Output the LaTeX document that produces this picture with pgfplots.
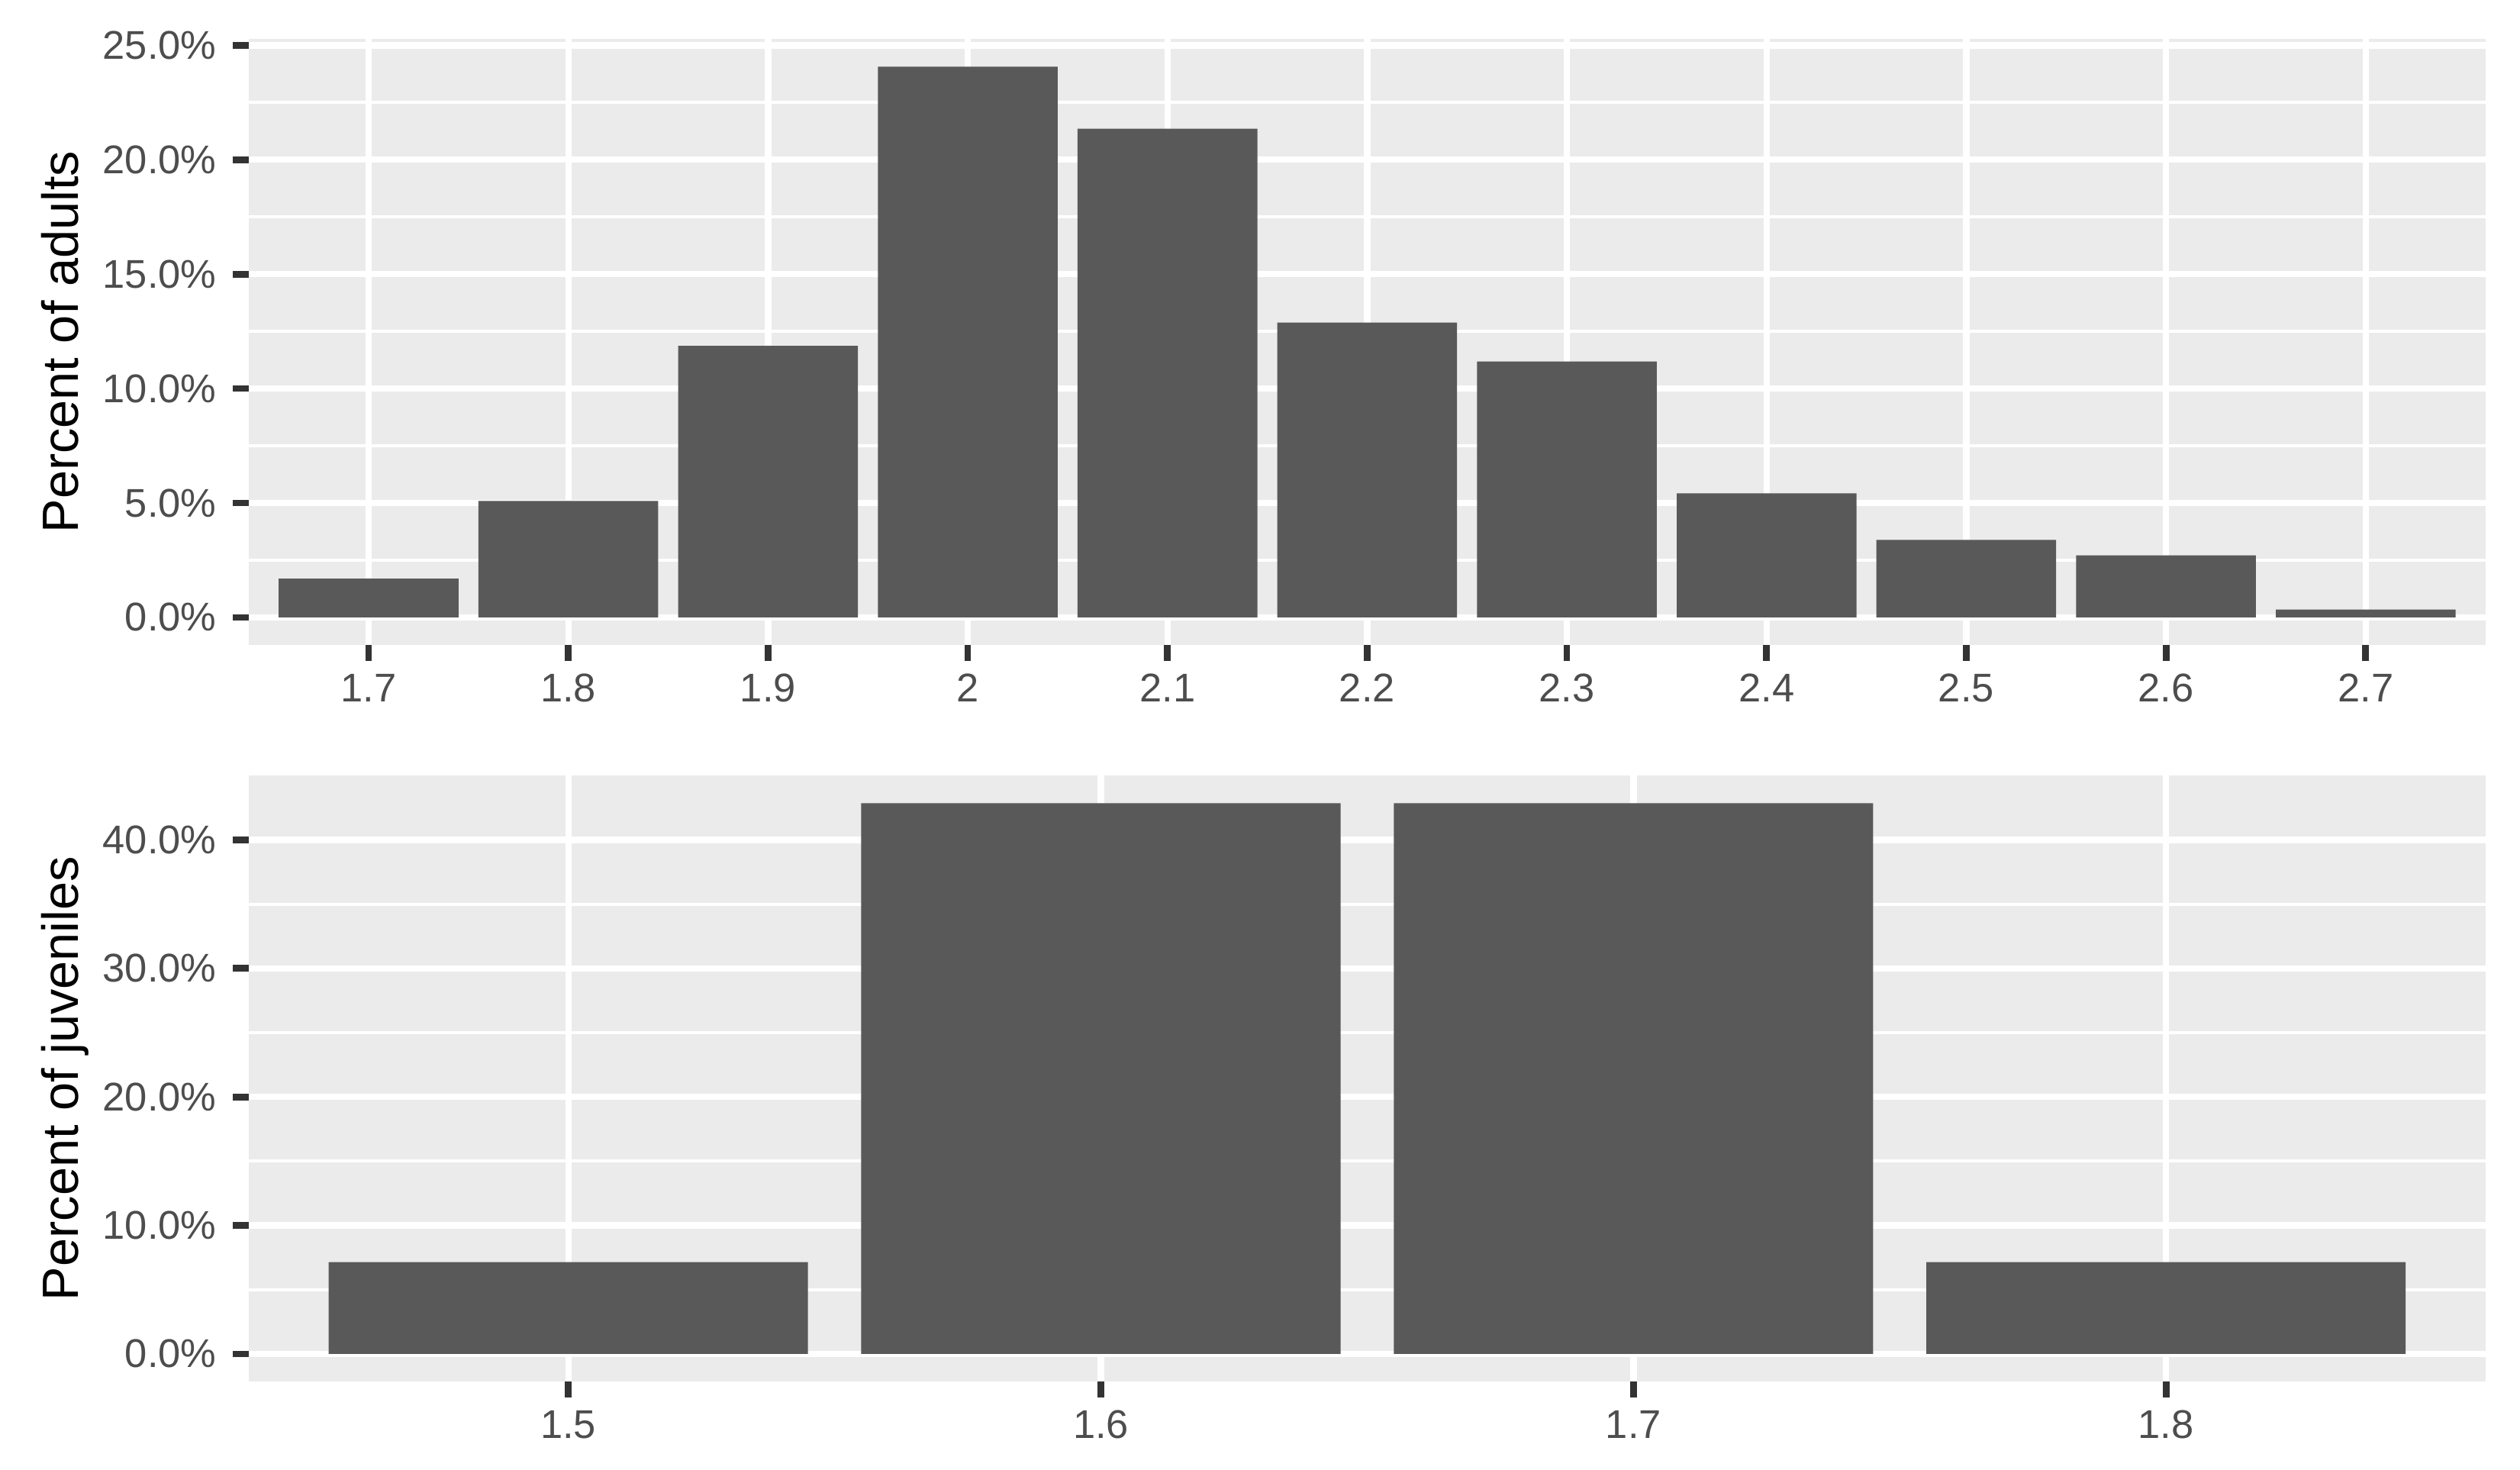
\documentclass[border=0pt]{standalone}
\usepackage{fontspec}
\setmainfont{Liberation Sans}
\usepackage{pgfplots}
\usepackage{pgfplotstable}
\pgfplotsset{compat=1.18}
\definecolor{panelbg}{HTML}{EBEBEB}
\definecolor{barcol}{HTML}{595959}
\definecolor{ticklab}{HTML}{4D4D4D}
\definecolor{tickcol}{HTML}{333333}

\pgfplotstableread{
x pct
0 1.695
1 5.085
2 11.864
3 24.068
4 21.356
5 12.881
6 11.186
7 5.424
8 3.390
9 2.712
10 0.339
}\adults

\pgfplotstableread{
x pct
0 7.143
1 42.857
2 42.857
3 7.143
}\juveniles

\pgfplotsset{ggpanel/.style={
  scale only axis, width=703.4pt, height=190.5pt,
  axis background/.style={fill=panelbg},
  axis line style={draw=none},
  grid=both,
  major grid style={white, line width=2pt},
  minor grid style={white, line width=1pt},
  minor y tick num=1, minor tick length=0pt,
  tick align=outside, major tick length=5pt,
  xtick pos=left, ytick pos=left,
  tick style={draw=tickcol, line width=2.1pt},
  every tick label/.append style={font=\fontsize{12.6}{14}\selectfont, text=ticklab},
  /pgf/number format/assume math mode=true,
  yticklabel={\pgfmathprintnumber[fixed,fixed zerofill,precision=1]{\tick}\%},
  yticklabel style={anchor=east, inner sep=0pt, xshift=-5pt},
  xticklabel style={anchor=north, inner sep=0pt, yshift=-4pt},
  every axis y label/.style={at={(axis description cs:-0.0761,0.5)}, rotate=90, anchor=base, font=\fontsize{16}{19}\selectfont, text=black},
  ybar, bar width=0.9, bar shift=0pt,
}}

\begin{document}
\begin{tikzpicture}
\path[use as bounding box] (-78.24pt,-259.44pt) rectangle (714.24pt,202.8pt);
\begin{axis}[ggpanel, at={(0pt,0pt)}, anchor=south west,
  xmin=-0.6, xmax=10.6, ymin=-1.2034, ymax=25.271,
  xtick={0,...,10},
  xticklabels={1.7,1.8,1.9,2,2.1,2.2,2.3,2.4,2.5,2.6,2.7},
  ytick={0,5,10,15,20,25},
  ylabel={Percent of adults}]
\addplot[fill=barcol, draw=none] table[x=x, y=pct] {\adults};
\end{axis}
\begin{axis}[ggpanel, at={(0pt,-231.6pt)}, anchor=south west,
  xmin=-0.6, xmax=3.6, ymin=-2.1429, ymax=45.0,
  xtick={0,...,3},
  xticklabels={1.5,1.6,1.7,1.8},
  ytick={0,10,20,30,40},
  ylabel={Percent of juveniles}]
\addplot[fill=barcol, draw=none] table[x=x, y=pct] {\juveniles};
\end{axis}
\end{tikzpicture}
\end{document}
